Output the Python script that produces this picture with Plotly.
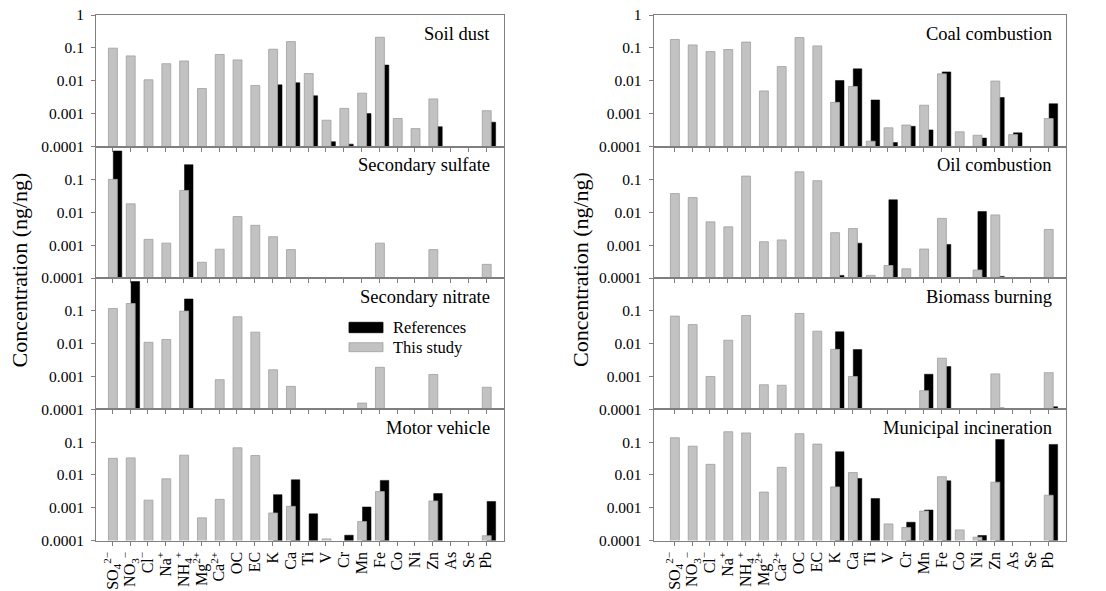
import plotly.graph_objects as go

N = None
species = ["SO4", "NO3", "Cl", "Na", "NH4", "Mg", "Ca2+", "OC", "EC", "K", "Ca", "Ti",
           "V", "Cr", "Mn", "Fe", "Co", "Ni", "Zn", "As", "Se", "Pb"]
tick_labels = ["SO<sub>4</sub><sup>2−</sup>", "NO<sub>3</sub><sup>−</sup>", "Cl<sup>−</sup>",
               "Na<sup>+</sup>", "NH<sub>4</sub><sup>+</sup>", "Mg<sup>2+</sup>", "Ca<sup>2+</sup>",
               "OC", "EC", "K", "Ca", "Ti", "V", "Cr", "Mn", "Fe", "Co", "Ni", "Zn", "As", "Se", "Pb"]
panel_titles = ["Soil dust", "Secondary sulfate", "Secondary nitrate", "Motor vehicle",
                "Coal combustion", "Oil combustion", "Biomass burning", "Municipal incineration"]
y_tick_vals = [0.0001, 0.001, 0.01, 0.1, 1]
y_tick_text = ["0.0001", "0.001", "0.01", "0.1", "1"]

#               SO4    NO3    Cl      Na      NH4    Mg      Ca2+    OC     EC      K       Ca      Ti      V        Cr       Mn       Fe      Co       Ni       Zn      As       Se  Pb
soil_this   = [0.098, 0.057, 0.0107, 0.033, 0.040, 0.0058, 0.063, 0.043, 0.0072, 0.091, 0.155, 0.0166, 0.00063, 0.00144, 0.0042, 0.21, 0.00071, 0.00035, 0.0028, N, N, 0.00123]
soil_ref    = [N, N, N, N, N, N, N, N, N, 0.0075, 0.0087, 0.0035, 0.00014, 0.000118, 0.001, 0.030, N, N, 0.0004, N, N, 0.00055]
sulf_this   = [0.1, 0.018, 0.0015, 0.00115, 0.046, 0.0003, 0.00075, 0.0074, 0.004, 0.0018, 0.00073, N, N, N, N, 0.00115, N, N, 0.00073, N, N, 0.00026]
sulf_ref    = [0.73, N, N, N, 0.28, N, N, N, N, N, N, N, N, N, N, N, N, N, N, N, N, N]
nitr_this   = [0.118, 0.167, 0.011, 0.0134, 0.098, N, 0.0008, 0.066, 0.0224, 0.0016, 0.0005, N, N, N, 0.000155, 0.0019, N, N, 0.00115, N, N, 0.00047]
nitr_ref    = [N, 0.78, N, N, 0.23, N, N, N, N, N, N, N, N, N, N, N, N, N, N, N, N, N]
motor_this  = [0.032, 0.033, 0.0017, 0.0076, 0.040, 0.00049, 0.0018, 0.067, 0.039, 0.00069, 0.0011, N, 0.000112, N, 0.00038, 0.0031, N, N, 0.0016, N, N, 0.00014]
motor_ref   = [N, N, N, N, N, N, N, N, N, 0.0025, 0.0071, 0.00065, N, 0.000145, 0.00105, 0.0068, N, N, 0.0027, N, N, 0.00155]
coal_this   = [0.18, 0.123, 0.077, 0.089, 0.15, 0.0049, 0.027, 0.206, 0.115, 0.0022, 0.0067, 0.000145, 0.00037, 0.00045, 0.0018, 0.0162, 0.00028, 0.00022, 0.0098, 0.00023, N, 0.00071]
coal_ref    = [N, N, N, N, N, N, N, N, N, 0.0102, 0.023, 0.0026, 0.000132, 0.00041, 0.00032, 0.0186, N, 0.00018, 0.0031, 0.00026, N, 0.002]
oil_this    = [0.037, 0.028, 0.0051, 0.0036, 0.126, 0.00127, 0.00144, 0.17, 0.091, 0.0024, 0.0032, 0.00012, 0.00024, 0.00019, 0.00076, 0.0065, N, 0.000175, 0.0083, N, N, 0.003]
oil_ref     = [N, N, N, N, N, N, N, N, N, 0.00012, 0.00115, N, 0.024, N, N, 0.00105, N, 0.0105, 0.000112, N, N, N]
bio_this    = [0.069, 0.038, 0.001, 0.0127, 0.072, 0.00056, 0.00054, 0.083, 0.024, 0.0067, 0.001, N, N, N, 0.00037, 0.0036, N, N, 0.0012, N, N, 0.00131]
bio_ref     = [N, N, N, N, N, N, N, N, N, 0.023, 0.0066, N, N, N, 0.00117, 0.0020, N, N, 0.00011, N, N, 0.00012]
muni_this   = [0.136, 0.075, 0.021, 0.207, 0.19, 0.003, 0.017, 0.18, 0.087, 0.0043, 0.0118, N, 0.00032, 0.00025, 0.00079, 0.0088, 0.00021, 0.000126, 0.006, N, N, 0.0024]
muni_ref    = [N, N, N, N, N, N, N, N, N, 0.051, 0.0078, 0.0019, N, 0.00036, 0.00085, 0.0066, N, 0.000142, 0.12, N, N, 0.085]

panels_this = [soil_this, sulf_this, nitr_this, motor_this, coal_this, oil_this, bio_this, muni_this]
panels_ref = [soil_ref, sulf_ref, nitr_ref, motor_ref, coal_ref, oil_ref, bio_ref, muni_ref]

W, H = 1106, 591
FONT = "Liberation Serif, Times New Roman, serif"
GREY = "#c2c2c2"
GREY_EDGE = "#a0a0a0"
AXIS = "#7f7f7f"

col_px = [(96, 504), (653.7, 1066)]
x_ranges = [[-0.92, 22.0], [-1.16, 22.0]]
row_px = [(15, 146.5), (146.5, 278), (278, 409.3), (409.3, 540.5)]

fig = go.Figure()
layout = dict(width=W, height=H, margin=dict(l=0, r=0, t=0, b=0, autoexpand=False),
              plot_bgcolor="white", paper_bgcolor="white", showlegend=False,
              barmode="overlay", font=dict(family=FONT, color="black"))
annotations = []
shapes = []
xs = list(range(len(species)))

for k in range(8):
    col = k // 4
    row = k % 4
    sid = "" if k == 0 else str(k + 1)
    xa, ya = "x" + sid, "y" + sid
    fig.add_trace(go.Bar(x=xs, y=panels_ref[k], xaxis=xa, yaxis=ya, name="References",
                         marker=dict(color="black", line=dict(color="black", width=0.5)),
                         offset=0.05, width=0.48))
    fig.add_trace(go.Bar(x=xs, y=panels_this[k], xaxis=xa, yaxis=ya, name="This study",
                         marker=dict(color=GREY, line=dict(color=GREY_EDGE, width=0.8)),
                         offset=-0.22, width=0.5))
    x0, x1 = col_px[col]
    y0, y1 = row_px[row]
    bottom = row == 3
    layout["xaxis" + sid] = dict(
        domain=[x0 / W, x1 / W], anchor=ya, range=x_ranges[col], automargin=False,
        tickmode="array", tickvals=xs, ticktext=tick_labels,
        showticklabels=bottom, tickangle=-90, ticks="outside", ticklen=4, tickcolor=AXIS,
        showline=True, linecolor=AXIS, linewidth=1, mirror=True, showgrid=False, zeroline=False,
        tickfont=dict(family=FONT, size=16, color="black"), fixedrange=True)
    tv = y_tick_vals if row == 0 else y_tick_vals[:-1]
    tt = y_tick_text if row == 0 else y_tick_text[:-1]
    layout["yaxis" + sid] = dict(
        domain=[1 - y1 / H, 1 - y0 / H], anchor=xa, type="log", range=[-4, 0], automargin=False,
        tickmode="array", tickvals=tv, ticktext=tt, ticks="outside", ticklen=4, tickcolor=AXIS,
        ticklabelstandoff=4,
        showline=True, linecolor=AXIS, linewidth=1, mirror=True, showgrid=False, zeroline=False,
        tickfont=dict(family=FONT, size=15.5, color="black"), fixedrange=True)
    annotations.append(dict(text=panel_titles[k], xref="paper", yref="paper",
                            x=(x1 - 12) / W, y=1 - (y0 + 19) / H, xanchor="right", yanchor="middle",
                            showarrow=False, font=dict(family=FONT, size=18.5, color="black")))

for xc in (18.5, 580):
    annotations.append(dict(text="Concentration (ng/ng)", xref="paper", yref="paper",
                            x=xc / W, y=1 - 270 / H, xanchor="center", yanchor="middle",
                            textangle=-90, showarrow=False,
                            font=dict(family=FONT, size=22, color="black")))

# legend (inside Secondary nitrate panel)
leg = [("References", "black", "black", 322.3, 332.7), ("This study", GREY, GREY_EDGE, 342.7, 351.7)]
for name, fc, lc, ty, by in leg:
    shapes.append(dict(type="rect", xref="paper", yref="paper", x0=349 / W, x1=383 / W,
                       y0=1 - by / H, y1=1 - ty / H, fillcolor=fc, line=dict(color=lc, width=0.8)))
    annotations.append(dict(text=name, xref="paper", yref="paper", x=390.5 / W, y=1 - ((ty + by) / 2) / H,
                            xanchor="left", yanchor="middle", showarrow=False,
                            font=dict(family=FONT, size=16.5, color="black")))

layout["annotations"] = annotations
layout["shapes"] = shapes
fig.update_layout(**layout)
fig.write_html("out.html")
